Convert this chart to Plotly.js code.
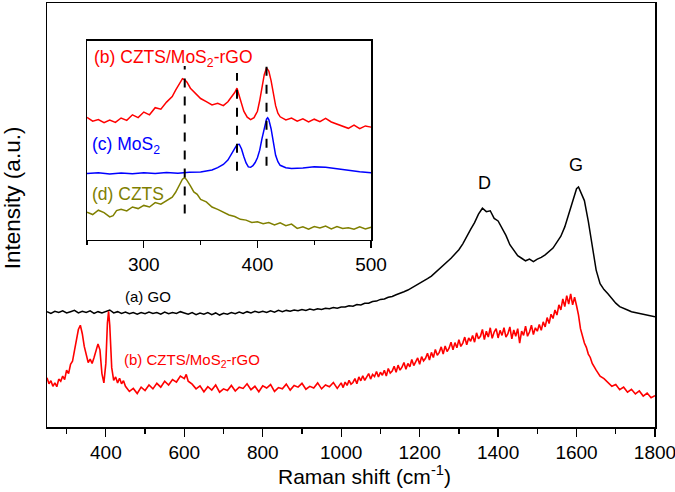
<!DOCTYPE html>
<html>
<head>
<meta charset="utf-8">
<script src="https://cdn.plot.ly/plotly-3.0.1.min.js"></script>
<style>
  body { margin: 0; background: #fff; }
  #chart { width: 675px; height: 492px; }
</style>
</head>
<body>
<div id="chart"></div>
<script>
// Raman spectra, main panel (250-1800 cm-1), intensity in arbitrary units

const goShift = [250,260,270,280,290,300,310,320,330,340,350,360,370,380,390,400,410,420,430,440,
  450,460,470,480,490,500,510,520,530,540,550,560,570,580,590,600,610,620,630,640,
  650,660,670,680,690,700,710,720,730,740,750,760,770,780,790,800,810,820,830,840,
  850,860,870,880,890,900,910,920,930,940,950,960,970,980,990,1000,1010,1020,1030,1040,
  1050,1060,1070,1080,1090,1100,1110,1120,1130,1140,1150,1160,1170,1180,1190,1200,1210,1220,1230,1240,
  1250,1260,1270,1280,1290,1300,1310,1320,1330,1340,1350,1360,1370,1380,1390,1400,1410,1420,1430,1440,
  1450,1460,1470,1480,1490,1500,1510,1520,1530,1540,1550,1560,1570,1580,1590,1600,1605,1610,1620,1630,
  1640,1650,1660,1670,1680,1690,1700,1710,1720,1730,1740,1750,1760,1770,1780,1790,1800];
const goInt = [27.2,26.8,27.3,27.0,27.4,26.9,27.2,27.5,26.9,27.3,27.0,27.4,26.8,27.2,26.9,27.3,27.6,26.9,27.2,26.8,
  27.1,26.7,27.0,26.6,27.0,26.7,27.1,26.8,27.0,26.6,27.1,26.7,27.0,26.8,27.2,26.9,26.6,27.0,26.5,26.9,
  26.6,27.0,26.5,26.9,26.4,26.8,26.6,27.0,26.7,27.1,26.8,27.2,26.9,27.3,27.0,27.3,27.0,27.4,27.1,27.5,
  27.2,27.5,27.3,27.6,27.4,27.7,27.5,27.8,27.6,27.9,27.7,28.0,27.9,28.2,28.0,28.3,28.3,28.6,28.5,28.9,
  28.8,29.2,29.2,29.6,29.7,30.1,30.2,30.6,30.8,31.2,31.5,31.9,32.3,32.8,33.4,33.9,34.5,35.0,35.6,36.4,
  37.2,38.0,38.8,39.8,40.8,41.8,43.2,45.0,46.6,48.2,50.2,51.6,50.8,51.0,49.2,48.6,46.8,45.2,43.0,41.6,
  40.4,39.8,39.2,39.6,39.0,39.6,40.0,40.6,41.4,42.2,43.6,45.0,47.2,50.2,53.6,56.2,56.6,55.6,53.4,48.5,
  42.5,37.0,33.8,32.4,31.4,30.3,29.2,28.4,27.9,27.6,27.2,27.0,26.9,26.6,26.5,26.2,26.0];

const rgoShift = [250,255,260,265,270,275,280,285,290,295,300,305,310,315,320,325,330,335,340,345,
  350,355,360,365,370,375,380,385,390,395,400,404,407,410,415,420,425,430,435,440,445,
  450,460,470,480,490,500,510,520,530,540,550,560,570,580,590,600,605,
  610,620,630,640,650,660,670,680,690,700,710,720,730,740,750,760,770,780,790,800,
  810,820,830,840,850,860,870,880,890,900,910,920,930,940,950,960,970,980,990,
  1000,1005,1010,1015,1020,1025,1030,1035,1040,1045,1050,1055,1060,1065,1070,1075,1080,1085,1090,1095,
  1100,1105,1110,1115,1120,1125,1130,1135,1140,1145,1150,1155,1160,1165,1170,1175,1180,1185,1190,1195,
  1200,1205,1210,1215,1220,1225,1230,1235,1240,1245,1250,1255,1260,1265,1270,1275,1280,1285,1290,1295,
  1300,1305,1310,1315,1320,1325,1330,1335,1340,1345,1350,1355,1360,1365,1370,1375,1380,1385,1390,1395,
  1400,1405,1410,1415,1420,1425,1430,1435,1440,1445,1450,1455,1460,1465,1470,1475,1480,1485,1490,1495,
  1500,1505,1510,1515,1520,1525,1530,1535,1540,1545,1550,1555,1560,1565,1570,1575,1580,1585,1590,1595,
  1600,1605,1610,1615,1620,1625,1630,1635,1640,
  1650,1660,1670,1680,1690,1700,1710,1720,1730,1740,1750,1760,1770,1780,1790,1800];
const rgoInt = [11.6,10.2,10.9,9.6,10.4,9.5,11.3,10.8,12.0,11.2,13.4,12.6,14.8,15.5,18.0,20.6,23.0,24.0,22.0,19.0,
  16.8,15.2,16.0,15.0,16.4,17.8,19.6,18.2,12.6,10.4,15.0,24.5,27.3,24.0,14.0,11.0,11.8,10.4,11.5,10.2,10.9,
  9.6,8.4,9.1,7.9,9.4,8.6,9.9,9.0,10.3,9.4,10.8,9.9,11.2,10.6,12.0,11.4,12.4,
  10.8,10.1,9.0,9.7,8.3,9.5,8.7,9.9,8.2,9.0,8.6,9.8,8.5,9.4,9.1,10.2,8.8,9.6,8.3,9.7,
  9.2,10.0,8.4,9.3,9.0,10.1,8.7,9.8,9.4,10.3,8.9,9.6,9.2,10.4,9.0,9.9,9.5,10.5,9.1,
  10.4,9.3,10.6,9.8,11.0,10.1,10.5,11.4,10.2,11.8,10.9,12.1,11.0,11.7,12.6,11.3,12.4,11.9,13.1,11.8,
  12.9,12.2,13.4,12.0,13.8,12.7,13.2,14.3,12.9,14.6,13.4,14.1,15.2,13.6,15.0,14.2,15.9,14.5,15.4,16.3,
  14.8,16.6,15.6,16.2,17.4,15.8,17.6,16.4,18.3,16.9,17.6,18.9,17.2,19.1,17.8,18.6,20.0,18.2,19.9,18.7,
  20.6,19.0,19.8,21.2,19.4,21.0,20.2,21.6,20.0,22.2,20.8,21.4,23.0,20.6,22.6,21.2,23.4,20.9,22.4,23.2,
  21.0,22.8,21.6,23.4,21.2,22.0,23.6,20.8,22.9,21.4,23.2,19.8,22.6,21.6,23.8,21.4,22.4,24.0,21.8,23.4,
  22.6,24.2,22.8,24.8,23.6,25.8,24.4,26.6,25.6,27.6,26.4,28.8,27.6,30.2,28.4,31.0,29.0,31.4,28.8,30.6,
  28.6,26.4,23.2,21.4,19.8,18.8,17.2,16.4,15.0,
  13.4,12.0,11.4,10.4,9.6,10.0,8.8,9.4,8.2,8.9,7.8,8.5,7.3,8.0,6.9,7.4];

// inset (250-500 cm-1)
const inRgoShift = [250,255,260,265,270,275,280,285,290,295,300,305,310,315,320,325,328,331,334,336,
  338,341,344,347,350,355,360,365,370,374,377,380,382,384,386,388,391,394,397,400,
  402,404,406,408,410,412,414,416,418,420,425,430,435,440,445,450,455,460,465,470,
  475,480,485,490,495,500];
const inRgoInt = [61.5,59.6,60.4,58.8,60.2,59.0,61.2,60.0,62.8,61.4,64.2,62.8,66.4,65.6,69.2,72.0,75.2,78.0,81.0,80.4,
  79.2,76.2,74.4,72.8,71.0,69.4,67.8,68.6,67.4,69.4,71.6,74.0,76.2,72.4,68.0,64.6,61.6,60.4,61.4,64.6,
  70.0,76.4,83.0,86.4,84.8,80.0,73.2,67.4,63.6,61.8,60.2,61.2,59.6,60.8,59.2,60.6,59.4,61.0,59.2,58.0,
  57.0,56.0,57.6,55.8,57.2,56.6];

const mos2Shift = [250,260,270,280,290,300,310,320,330,340,350,355,360,365,370,374,377,380,382,384,
  386,388,390,392,394,396,398,400,402,404,406,408,409,410,412,414,416,418,420,425,
  430,440,450,460,470,480,490,500];
const mos2Int = [33.2,33.6,33.0,33.5,33.1,33.6,33.3,33.8,33.4,33.9,34.0,34.4,35.0,36.2,37.8,40.0,42.8,46.2,47.8,48.0,
  45.6,41.8,38.6,36.6,36.4,37.2,38.8,41.2,45.0,50.8,56.6,60.6,61.3,60.4,55.8,48.4,42.4,39.2,37.4,36.2,
  35.8,36.0,36.6,36.4,35.6,34.8,34.2,33.6];

const cztsShift = [250,255,260,265,270,273,276,280,285,290,295,300,305,310,315,320,325,328,331,334,
  336,338,341,344,347,350,355,360,365,370,375,380,385,390,395,400,405,410,415,420,
  425,430,435,440,445,450,455,460,465,470,475,480,485,490,495,500];
const cztsInt = [13.8,12.6,14.8,13.6,11.4,12.0,14.6,15.2,14.4,16.4,15.6,17.2,16.4,18.6,17.8,19.8,21.4,23.8,27.0,30.4,
  31.2,29.8,27.0,24.0,22.8,20.2,19.0,16.4,15.2,13.8,12.4,11.6,10.2,9.8,8.6,9.0,8.0,8.6,7.4,8.4,
  7.0,7.8,5.6,6.4,5.2,6.6,5.8,6.8,5.4,6.6,5.6,6.0,5.2,6.4,5.4,6.2];

// peak guide lines in the inset
const guideX = [336, 382, 408];
const guideTop = [87.4, 83.9, 91.0];
const guideBottom = [13.1, 34.7, 37.2];

const font = "Arial, 'Liberation Sans', sans-serif";

function line(x, y, color, axes, width) {
  return {
    x: x, y: y, type: 'scatter', mode: 'lines',
    line: { color: color, width: width || 1.5 },
    xaxis: axes[0], yaxis: axes[1], hoverinfo: 'skip'
  };
}

const data = [
  line(goShift, goInt, '#000000', ['x', 'y']),
  line(rgoShift, rgoInt, '#ff0000', ['x', 'y'], 1.6),
  line(inRgoShift, inRgoInt, '#ff0000', ['x2', 'y2']),
  line(mos2Shift, mos2Int, '#0000ff', ['x2', 'y2']),
  line(cztsShift, cztsInt, '#808000', ['x2', 'y2'])
];

const shapes = guideX.map((gx, i) => ({
  type: 'line', xref: 'x2', yref: 'y2',
  x0: gx, x1: gx, y0: guideBottom[i], y1: guideTop[i],
  line: { color: '#000', width: 2, dash: 'dash' }
}));

function label(text, x, y, color, axes, size, anchor) {
  return {
    text: text, x: x, y: y, xref: axes[0], yref: axes[1],
    showarrow: false, xanchor: anchor || 'left', yanchor: 'middle',
    font: { family: font, size: size, color: color }
  };
}

const annotations = [
  label('(a) GO', 444, 30.8, '#000', ['x', 'y'], 15),
  label('(b) CZTS/MoS<sub>2</sub>-rGO', 441, 15.8, '#ff0000', ['x', 'y'], 15),
  label('D', 1366, 57.5, '#000', ['x', 'y'], 18, 'center'),
  label('G', 1598, 61.8, '#000', ['x', 'y'], 18, 'center'),
  label('(b) CZTS/MoS<sub>2</sub>-rGO', 254, 91, '#ff0000', ['x2', 'y2'], 17.5),
  label('(c) MoS<sub>2</sub>', 253, 47.2, '#0000ff', ['x2', 'y2'], 17.5),
  label('(d) CZTS', 253, 23.1, '#808000', ['x2', 'y2'], 17.5),
  // axis titles placed as in the original figure
  label('Raman shift (cm<sup>-1</sup>)', 0.523, -0.113, '#000', ['paper', 'paper'], 21, 'center'),
  Object.assign(label('Intensity (a.u.)', -0.0576, 0.542, '#000', ['paper', 'paper'], 22.5, 'center'), { textangle: -90 })
];

const frame = { showline: true, linecolor: '#000', linewidth: 1.5, mirror: true, showgrid: false, zeroline: false };

const layout = {
  width: 675, height: 492,
  margin: { l: 47, r: 20, t: 3, b: 65 },
  paper_bgcolor: '#fff', plot_bgcolor: '#fff',
  showlegend: false,
  font: { family: font, color: '#000' },
  xaxis: Object.assign({}, frame, {
    range: [250, 1800], tick0: 0, dtick: 200,
    ticks: 'outside', ticklen: 8, tickwidth: 1.3, tickcolor: '#000',
    minor: { dtick: 100, ticks: 'outside', ticklen: 5, tickwidth: 1.3, tickcolor: '#000' },
    tickfont: { size: 19, family: font },
    ticklabeloverflow: 'allow', automargin: false
  }),
  yaxis: Object.assign({}, frame, {
    range: [0, 100], showticklabels: false, ticks: ''
  }),
  xaxis2: Object.assign({}, frame, {
    domain: [0.0658, 0.533], anchor: 'y2',
    range: [250, 500], tick0: 0, dtick: 100,
    ticks: 'outside', ticklen: 7, tickwidth: 1.3, tickcolor: '#000',
    minor: { dtick: 50, ticks: 'outside', ticklen: 4, tickwidth: 1.3, tickcolor: '#000' },
    tickfont: { size: 19, family: font }
  }),
  yaxis2: Object.assign({}, frame, {
    domain: [0.442, 0.9106], anchor: 'x2',
    range: [0, 100], showticklabels: false, ticks: ''
  }),
  shapes: shapes,
  annotations: annotations
};

Plotly.newPlot('chart', data, layout, { staticPlot: true });
</script>
</body>
</html>
